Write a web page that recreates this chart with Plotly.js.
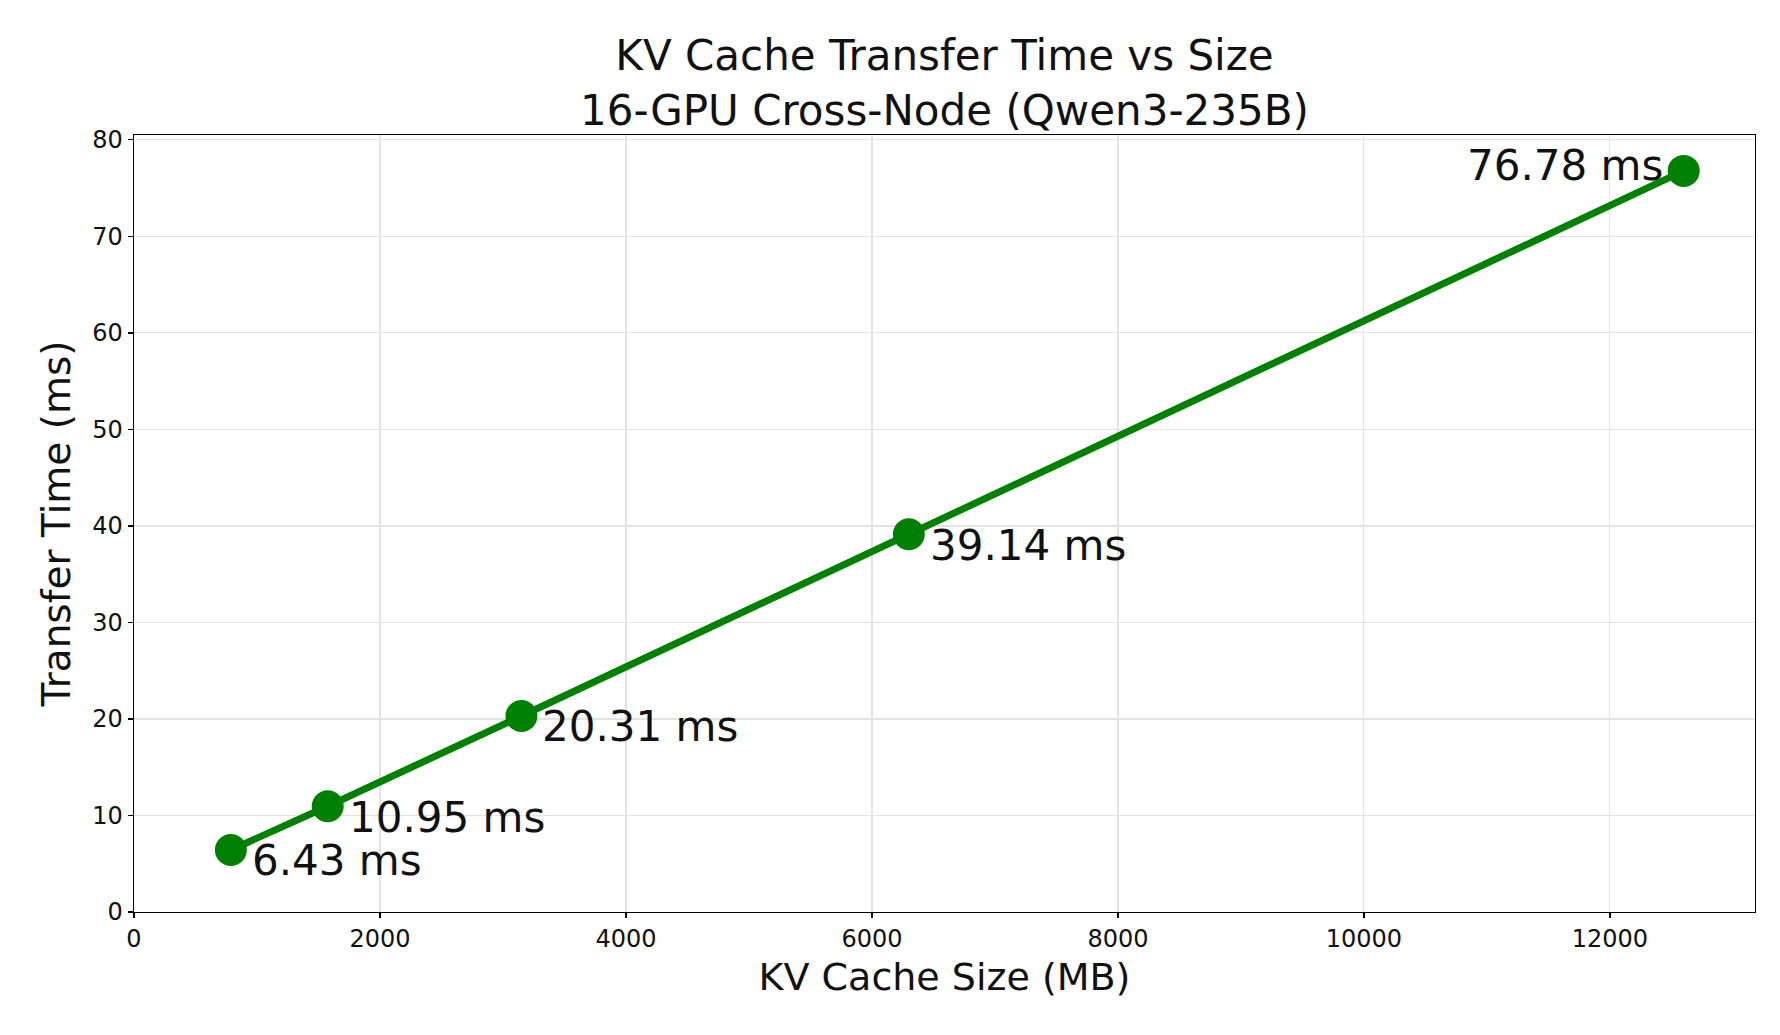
<!DOCTYPE html>
<html>
<head>
<meta charset="utf-8">
<script src="https://cdn.plot.ly/plotly-3.0.1.min.js"></script>
<style>
	html, body { margin: 0; padding: 0; background: #fff; }
	#plot { width: 1780px; height: 1035px; }
</style>
</head>
<body>
<div id="plot"></div>
<script>
	// Data.
	const cacheSizeMB = [787.5, 1575, 3150, 6300, 12600];
	const transferMs = [6.43, 10.95, 20.31, 39.14, 76.78];
	const pointLabels = ['6.43 ms', '10.95 ms', '20.31 ms', '39.14 ms', '76.78 ms'];
	const xTicks = [0, 2000, 4000, 6000, 8000, 10000, 12000];
	const yTicks = [0, 10, 20, 30, 40, 50, 60, 70, 80];

	const FONT = 'DejaVu Sans, sans-serif';
	const TEXT = '#111111';
	const GREEN = '#008000';

	function buildAnnotations() {
		// Every label sits right/below its marker, except the last one which goes to the left.
		const last = cacheSizeMB.length - 1;
		return cacheSizeMB.map((x, i) => ({
			x: x,
			y: transferMs[i],
			xref: 'x',
			yref: 'y',
			text: pointLabels[i],
			showarrow: false,
			xanchor: i === last ? 'right' : 'left',
			yanchor: 'middle',
			xshift: i === last ? -19 : 19,
			yshift: i === last ? 5 : -11,
			font: { family: FONT, size: 42, color: TEXT }
		}));
	}

	function plotChart() {
		const data = [{
			x: cacheSizeMB,
			y: transferMs,
			mode: 'lines+markers',
			line: { color: GREEN, width: 7 },
			marker: { color: GREEN, size: 32, line: { width: 0 } },
			hoverinfo: 'x+y',
			showlegend: false
		}];

		const axisCommon = {
			showline: true,
			linecolor: '#000',
			linewidth: 1.3,
			mirror: true,
			ticks: 'outside',
			ticklen: 5,
			tickwidth: 1.3,
			tickcolor: '#000',
			showgrid: true,
			gridcolor: '#e3e3e3',
			gridwidth: 1.2,
			zeroline: false,
			tickfont: { family: FONT, size: 24, color: TEXT }
		};

		const layout = {
			width: 1780,
			height: 1035,
			paper_bgcolor: '#fff',
			plot_bgcolor: '#fff',
			font: { family: FONT, color: TEXT },
			title: {
				text: 'KV Cache Transfer Time vs Size<br>16-GPU Cross-Node (Qwen3-235B)',
				font: { family: FONT, size: 42, color: TEXT },
				xref: 'paper',
				x: 0.5,
				xanchor: 'center',
				yref: 'container',
				y: 1 - 70 / 1035,
				yanchor: 'top'
			},
			xaxis: Object.assign({}, axisCommon, {
				range: [0, 13180],
				tickvals: xTicks,
				ticktext: xTicks.map(String),
				title: { text: 'KV Cache Size (MB)', font: { family: FONT, size: 38, color: TEXT }, standoff: 11 }
			}),
			yaxis: Object.assign({}, axisCommon, {
				range: [0, 80.5],
				tickvals: yTicks,
				ticktext: yTicks.map(String),
				title: { text: 'Transfer Time (ms)', font: { family: FONT, size: 39, color: TEXT }, standoff: 9 }
			}),
			annotations: buildAnnotations(),
			margin: { l: 134, r: 25, t: 135, b: 123, pad: 0 }
		};

		Plotly.newPlot('plot', data, layout, { displayModeBar: false, staticPlot: true });
	}

	plotChart();
</script>
</body>
</html>
